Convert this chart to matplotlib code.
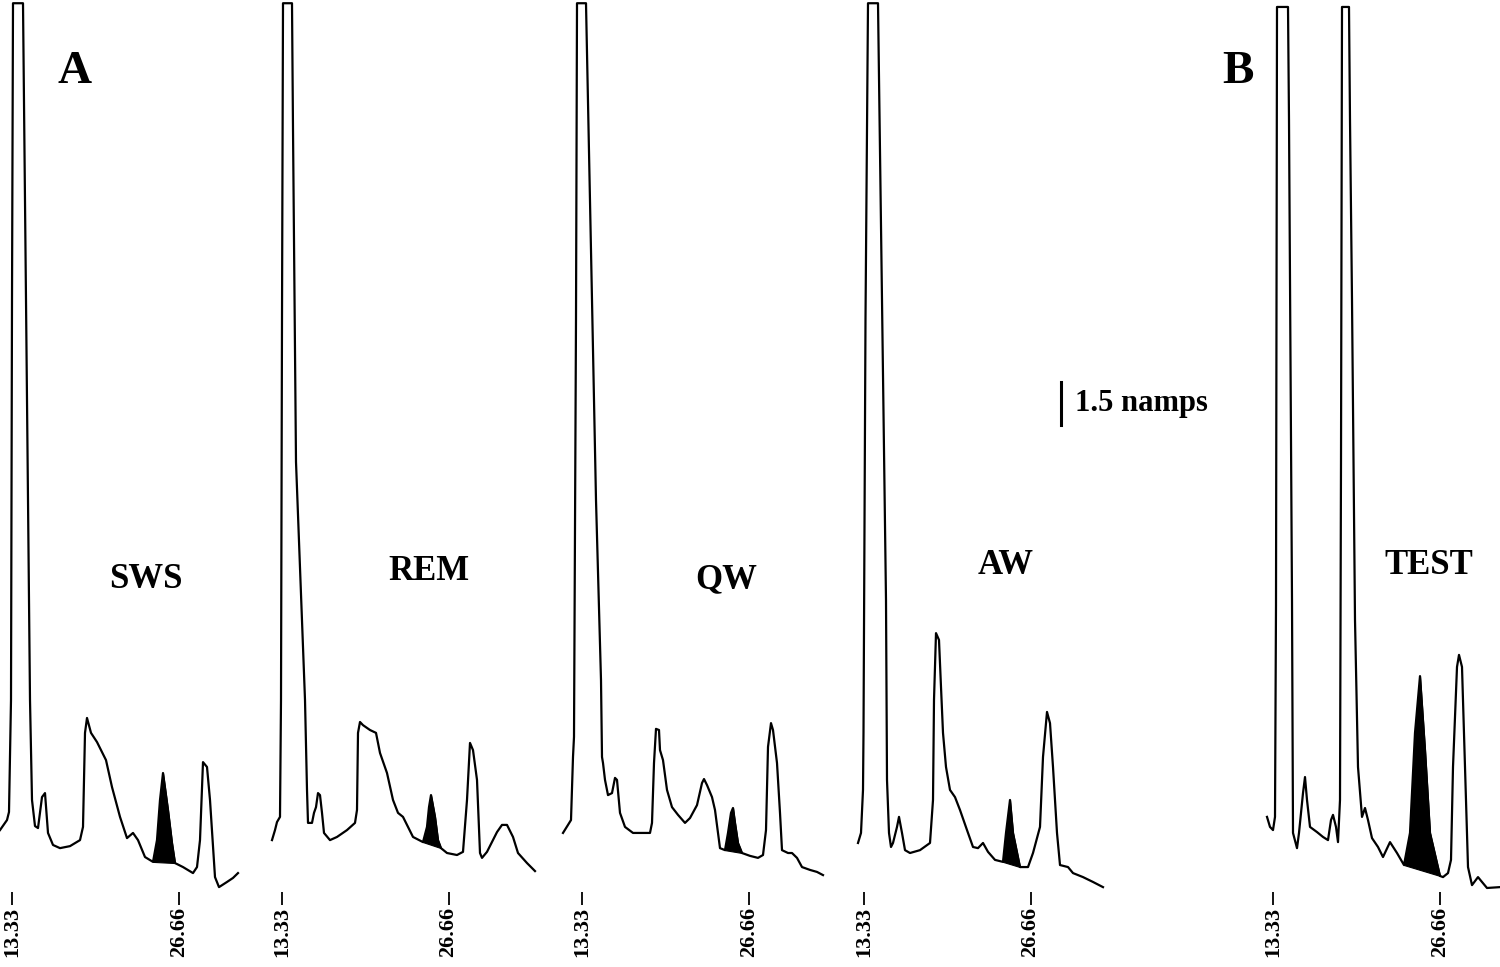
import numpy as np
import matplotlib
matplotlib.use("Agg")
import matplotlib.pyplot as plt

plt.rcParams["font.family"] = ["Liberation Serif", "DejaVu Serif"]
plt.rcParams["font.weight"] = "bold"

# retention time (min) and detector current (namps)
sws_t = [12.37, 12.93, 13.09, 13.25, 13.33, 13.41, 14.21, 14.45, 14.77, 14.93, 15.17, 15.41,
         15.73, 15.97, 16.21, 16.61, 17.17, 17.97, 18.77, 19.01, 19.17, 19.33, 19.65, 20.13,
         20.85, 21.33, 21.97, 22.53, 23.01, 23.41, 23.97, 24.61, 24.93, 25.17, 25.41, 25.81,
         26.13, 26.37, 27.01, 27.81, 28.13, 28.37, 28.61, 28.93, 29.17, 29.57, 29.89, 30.53,
         31.01, 31.41]
sws_i = [2.16, 2.51, 2.79, 6.70, 20.65, 31.0, 31.0, 20.65, 6.70, 3.21, 2.30, 2.23,
         3.31, 3.45, 2.06, 1.64, 1.53, 1.60, 1.81, 2.27, 5.55, 6.07, 5.55, 5.23,
         4.60, 3.66, 2.62, 1.88, 2.06, 1.81, 1.22, 1.05, 1.81, 3.21, 4.15, 2.86,
         1.71, 1.01, 0.87, 0.66, 0.87, 1.81, 4.53, 4.36, 3.21, 0.52, 0.17, 0.35,
         0.49, 0.66]

rem_t = [12.53, 12.77, 12.93, 13.17, 13.25, 13.33, 13.41, 14.13, 14.21, 14.45, 15.17, 15.33,
         15.41, 15.73, 15.89, 16.05, 16.21, 16.37, 16.53, 16.69, 17.17, 17.73, 18.53, 19.17,
         19.33, 19.41, 19.57, 19.81, 20.37, 20.85, 21.17, 21.73, 22.21, 22.61, 23.01, 23.41,
         23.81, 24.61, 24.93, 25.09, 25.25, 25.57, 25.81, 26.05, 26.53, 27.33, 27.81, 28.13,
         28.37, 28.61, 28.93, 29.17, 29.33, 29.73, 30.53, 30.93, 31.33, 31.81, 32.21, 32.93,
         33.57]
rem_i = [1.81, 2.16, 2.44, 2.62, 6.70, 20.0, 31.0, 31.0, 26.6, 15.0, 6.70, 3.56,
         2.41, 2.41, 2.76, 2.96, 3.45, 3.38, 2.76, 2.06, 1.81, 1.92, 2.16, 2.41,
         2.86, 5.55, 5.93, 5.82, 5.65, 5.55, 4.85, 4.15, 3.21, 2.76, 2.62, 2.27,
         1.92, 1.74, 2.27, 2.96, 3.38, 2.62, 1.81, 1.53, 1.36, 1.29, 1.40, 3.21,
         5.20, 4.95, 3.91, 1.36, 1.19, 1.40, 2.09, 2.34, 2.34, 1.92, 1.36, 1.01,
         0.73]

qw_t = [11.81, 12.21, 12.45, 12.61, 12.69, 12.85, 12.93, 13.65, 14.13, 14.45, 14.85, 14.93,
        15.01, 15.17, 15.41, 15.73, 15.97, 16.13, 16.37, 16.77, 17.41, 18.77, 18.93, 19.09,
        19.25, 19.49, 19.57, 19.81, 20.13, 20.53, 21.01, 21.57, 21.97, 22.53, 22.93, 23.09,
        23.33, 23.73, 23.97, 24.21, 24.37, 24.77, 25.01, 25.25, 25.41, 25.57, 25.81, 26.13,
        26.77, 27.41, 27.81, 28.05, 28.21, 28.45, 28.61, 28.93, 29.17, 29.33, 29.81, 30.13,
        30.53, 30.93, 31.57, 32.13, 32.61]
qw_i = [2.06, 2.34, 2.51, 4.71, 5.41, 20.0, 31.0, 31.0, 20.65, 13.67, 7.39, 4.71,
        4.50, 3.91, 3.38, 3.45, 3.98, 3.91, 2.76, 2.27, 2.06, 2.06, 2.41, 4.50,
        5.69, 5.65, 4.95, 4.60, 3.56, 2.96, 2.69, 2.41, 2.58, 3.03, 3.80, 3.94,
        3.73, 3.31, 2.86, 2.06, 1.53, 1.46, 2.06, 2.76, 2.93, 2.41, 1.71, 1.36,
        1.26, 1.19, 1.29, 2.16, 5.06, 5.89, 5.65, 4.50, 2.76, 1.46, 1.36, 1.36,
        1.19, 0.87, 0.77, 0.70, 0.59]

aw_t = [12.85, 13.09, 13.25, 13.29, 13.45, 13.65, 14.45, 14.77, 15.09, 15.17, 15.33, 15.49,
        15.65, 15.97, 16.13, 16.37, 16.61, 17.01, 17.81, 18.61, 18.85, 18.93, 19.09, 19.33,
        19.49, 19.65, 19.89, 20.21, 20.61, 21.01, 21.57, 22.05, 22.45, 22.85, 23.25, 23.81,
        24.45, 24.69, 25.01, 25.25, 25.81, 26.45, 26.85, 27.41, 27.65, 27.97, 28.21, 28.45,
        28.77, 29.01, 29.65, 30.05, 30.85, 31.65, 32.45]
aw_i = [1.71, 2.06, 3.56, 5.55, 20.0, 31.0, 31.0, 20.65, 10.18, 3.91, 2.06, 1.57,
        1.71, 2.27, 2.62, 2.06, 1.46, 1.36, 1.46, 1.71, 3.21, 6.70, 9.03, 8.79,
        7.15, 5.55, 4.36, 3.56, 3.31, 2.86, 2.16, 1.57, 1.53, 1.71, 1.40, 1.12,
        1.05, 2.06, 3.21, 2.06, 0.87, 0.87, 1.36, 2.27, 4.71, 6.28, 5.89, 4.36,
        2.06, 0.94, 0.87, 0.66, 0.52, 0.35, 0.17]

test_t = [12.85, 13.09, 13.33, 13.49, 13.57, 13.65, 14.53, 14.61, 14.85, 14.93, 15.25, 15.41,
          15.73, 15.89, 16.05, 16.29, 16.85, 17.33, 17.73, 17.97, 18.13, 18.37, 18.53, 18.69,
          18.77, 18.85, 19.41, 19.49, 19.65, 19.89, 20.13, 20.45, 20.69, 20.93, 21.25, 21.73,
          22.13, 22.69, 23.25, 23.81, 24.29, 24.69, 25.09, 25.49, 25.89, 26.69, 26.93, 27.33,
          27.57, 27.73, 28.05, 28.21, 28.45, 28.69, 28.93, 29.25, 29.73, 30.05, 30.45, 31.49]
test_i = [2.62, 2.27, 2.16, 2.62, 10.0, 30.87, 30.87, 26.93, 10.18, 2.06, 1.53, 2.06,
          3.45, 4.01, 3.21, 2.27, 2.09, 1.92, 1.81, 2.51, 2.69, 2.27, 1.74, 3.21,
          15.0, 30.87, 30.87, 26.93, 20.65, 9.49, 4.36, 2.62, 2.93, 2.51, 1.88, 1.57,
          1.22, 1.74, 1.36, 0.94, 2.06, 5.55, 7.53, 4.95, 2.06, 0.56, 0.52, 0.66,
          1.12, 4.36, 7.85, 8.27, 7.85, 4.36, 0.87, 0.24, 0.52, 0.35, 0.14, 0.17]

# shaded (identified) peak, start and end time
sws_peak = (24.61, 26.37)
rem_peak = (24.61, 26.05)
qw_peak = (24.77, 26.13)
aw_peak = (24.45, 25.81)
test_peak = (23.81, 26.69)

states = ["SWS", "REM", "QW", "AW", "TEST"]
tick_times = [13.33, 26.66]
tick_labels = ["13.33", "26.66"]

traces = [(sws_t, sws_i, sws_peak), (rem_t, rem_i, rem_peak), (qw_t, qw_i, qw_peak),
          (aw_t, aw_i, aw_peak), (test_t, test_i, test_peak)]

W, H = 1500, 967
fig = plt.figure(figsize=(W / 100, H / 100), dpi=100)
fig.patch.set_facecolor("white")

px_per_min = 12.5
px_per_namp = 28.67
tick_px = [12, 282, 582, 864, 1273]      # where 13.33 sits in each panel
label_xy = [(146, 580), (429, 572), (726, 580), (1006, 566), (1429, 566)]
axis_y = 892

axes = []
for (t, i, (a, b)), p13, name, (lx, ly) in zip(traces, tick_px, states, label_xy):
    left = p13 - 22
    ax = fig.add_axes([left / W, (H - axis_y) / H, 280 / W, axis_y / H])
    ax.set_xlim(13.33 - 22 / px_per_min, 13.33 + 258 / px_per_min)
    ax.set_ylim(0, axis_y / px_per_namp)
    ax.patch.set_alpha(0)
    for s in ax.spines.values():
        s.set_visible(False)
    ax.yaxis.set_visible(False)

    t = np.array(t)
    i = np.array(i)
    ax.plot(t, i, color="black", lw=1.6, solid_joinstyle="round", clip_on=False)

    m = (t >= a) & (t <= b)
    ia, ib = np.interp([a, b], t, i)
    base = np.interp(t[m], [a, b], [ia, ib])
    ax.fill_between(t[m], base, i[m], color="black", lw=0.8)

    ax.set_xticks(tick_times)
    ax.set_xticklabels(tick_labels, fontsize=16, fontweight="bold", rotation=90)
    ax.tick_params(axis="x", direction="out", length=9, width=1.3, pad=2, colors="black")

    fig.text(lx / W, 1 - ly / H, name, fontsize=25, fontweight="bold",
             ha="center", va="center")
    axes.append(ax)

# 1.5 namps scale bar, drawn in the AW panel
ax = axes[3]
bar_t = 29.09
bar_lo = (axis_y - 425) / px_per_namp
ax.plot([bar_t, bar_t], [bar_lo, bar_lo + 1.5], color="black", lw=2.2, clip_on=False)
ax.text(bar_t + 1.1, bar_lo + 0.75, "1.5 namps", fontsize=22, fontweight="bold",
        ha="left", va="center", clip_on=False)

fig.text(75 / W, 1 - 72 / H, "A", fontsize=34, fontweight="bold", ha="center", va="center")
fig.text(1238 / W, 1 - 72 / H, "B", fontsize=34, fontweight="bold", ha="center", va="center")

fig.savefig("out.png", dpi=100, facecolor="white")
